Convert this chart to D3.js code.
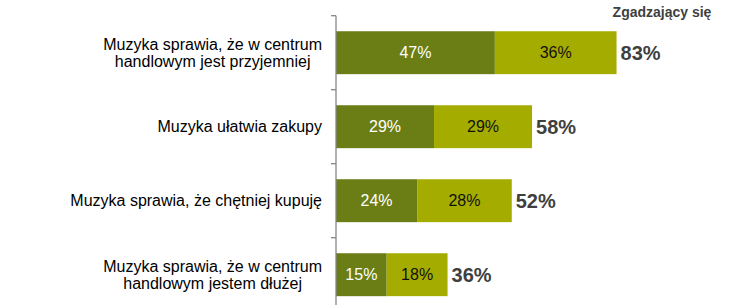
<!DOCTYPE html>
<html>
<head>
<meta charset="utf-8">
<script src="https://cdn.jsdelivr.net/npm/d3@7"></script>
<style>
  body { margin: 0; background: #fff; }
  text { font-family: "Liberation Sans", Arial, sans-serif; }
</style>
</head>
<body>
<div id="chart"></div>
<script>
var categories = [
  ["Muzyka sprawia, że w centrum", "handlowym jest przyjemniej"],
  ["Muzyka ułatwia zakupy"],
  ["Muzyka sprawia, że chętniej kupuję"],
  ["Muzyka sprawia, że w centrum", "handlowym jestem dłużej"]
];
var stronglyAgree = [47, 29, 24, 15];
var ratherAgree = [36, 29, 28, 18];
var totalLabels = ["83%", "58%", "52%", "36%"];
var headerText = "Zgadzający się";

var width = 749, height = 305;
var axisX = 336;

var svg = d3.select("#chart").append("svg")
  .attr("width", width)
  .attr("height", height);

var keys = categories.map(function(d, i) { return i; });

var y = d3.scaleBand()
  .domain(keys)
  .range([15.7, 311.7])
  .paddingInner(0.42)
  .paddingOuter(0.21);

var x = d3.scaleLinear()
  .domain([0, 100])
  .range([axisX, axisX + 338]);

var darkColor = "#6b7e15", lightColor = "#a5ac00";

// bars
var rows = svg.selectAll(".row")
  .data(keys)
  .enter().append("g")
  .attr("class", "row");

rows.append("rect")
  .attr("x", x(0))
  .attr("y", function(d) { return y(d); })
  .attr("width", function(d) { return x(stronglyAgree[d]) - x(0); })
  .attr("height", y.bandwidth())
  .attr("fill", darkColor);

rows.append("rect")
  .attr("x", function(d) { return x(stronglyAgree[d]); })
  .attr("y", function(d) { return y(d); })
  .attr("width", function(d) { return x(ratherAgree[d]) - x(0); })
  .attr("height", y.bandwidth())
  .attr("fill", lightColor);

rows.append("text")
  .attr("x", function(d) { return (x(0) + x(stronglyAgree[d])) / 2; })
  .attr("y", function(d) { return y(d) + y.bandwidth() / 2; })
  .attr("dy", "0.36em")
  .attr("text-anchor", "middle")
  .attr("fill", "#fff")
  .style("font-size", "16px")
  .text(function(d) { return stronglyAgree[d] + "%"; });

rows.append("text")
  .attr("x", function(d) { return x(stronglyAgree[d] + ratherAgree[d] / 2); })
  .attr("y", function(d) { return y(d) + y.bandwidth() / 2; })
  .attr("dy", "0.36em")
  .attr("text-anchor", "middle")
  .attr("fill", "#111")
  .style("font-size", "16px")
  .text(function(d) { return ratherAgree[d] + "%"; });

rows.append("text")
  .attr("x", function(d) { return x(stronglyAgree[d] + ratherAgree[d]) + 4; })
  .attr("y", function(d) { return y(d) + y.bandwidth() / 2; })
  .attr("dy", "0.36em")
  .attr("fill", "#3f3f3f")
  .style("font-size", "20px")
  .style("font-weight", "bold")
  .text(function(d) { return totalLabels[d]; });

// category labels, lines centred on each other, block right-aligned
var labelRight = 322, lineH = 17;
rows.each(function(d) {
  var lines = categories[d];
  var g = d3.select(this).append("text")
    .attr("fill", "#000")
    .style("font-size", "16px")
    .attr("text-anchor", "middle");
  var cy = y(d) + y.bandwidth() / 2;
  lines.forEach(function(line, j) {
    g.append("tspan")
      .attr("y", cy + (j - (lines.length - 1) / 2) * lineH)
      .attr("dy", "0.36em")
      .text(line);
  });
  var maxW = 0;
  g.selectAll("tspan").each(function() {
    maxW = Math.max(maxW, this.getComputedTextLength());
  });
  g.selectAll("tspan").attr("x", labelRight - maxW / 2);
});

// axis line and ticks at band boundaries
var axisG = svg.append("g").attr("stroke", "#868686").attr("stroke-width", 1.3);
var axisTop = y.range()[0], axisBottom = y.range()[1];
axisG.append("line")
  .attr("x1", axisX).attr("x2", axisX)
  .attr("y1", axisTop).attr("y2", axisBottom);
axisG.selectAll(".tick")
  .data(d3.range(keys.length + 1))
  .enter().append("line")
  .attr("x1", axisX - 5).attr("x2", axisX)
  .attr("y1", function(i) { return axisTop + i * y.step(); })
  .attr("y2", function(i) { return axisTop + i * y.step(); });

svg.append("text")
  .attr("x", 662)
  .attr("y", 17)
  .attr("text-anchor", "middle")
  .attr("fill", "#3f3f3f")
  .style("font-size", "14px")
  .style("font-weight", "bold")
  .text(headerText);
</script>
</body>
</html>
